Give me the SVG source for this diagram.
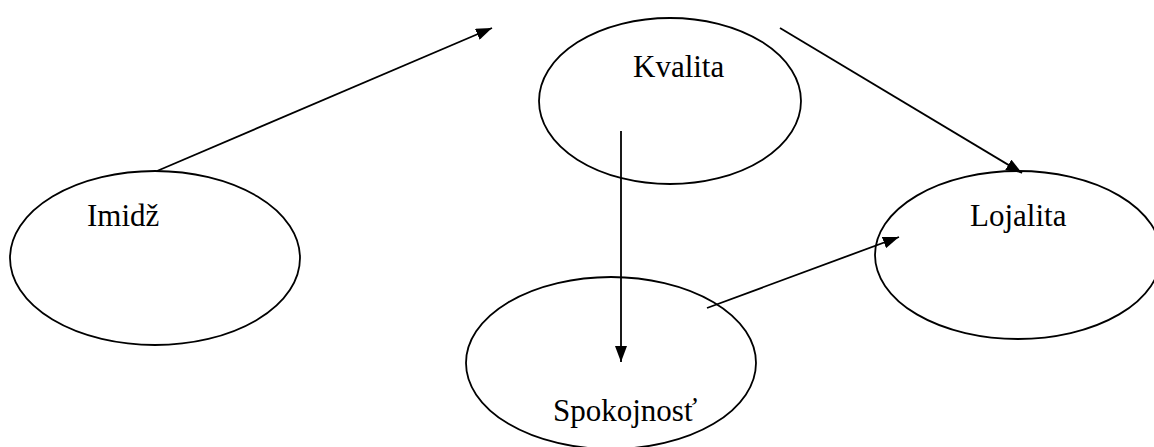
<svg xmlns="http://www.w3.org/2000/svg" width="1154" height="447" viewBox="0 0 1154 447">
  <style>
    .node ellipse { fill: none; stroke: #000; stroke-width: 1.8; }
    .node text { font-family: "Liberation Serif", "Times New Roman", serif; font-size: 31px; fill: #000; }
    .edge { stroke: #000; stroke-width: 1.8; fill: none; marker-end: url(#arrow); }
  </style>
  <defs>
    <!-- filled triangular arrowhead, tip placed on the line end -->
    <marker id="arrow" viewBox="0 0 10 10" refX="10" refY="5" markerWidth="16" markerHeight="12" markerUnits="userSpaceOnUse" orient="auto" preserveAspectRatio="none">
      <path d="M0,0 L10,5 L0,10 Z" fill="#000"/>
    </marker>
  </defs>
  <rect width="1154" height="447" fill="#fff"/>

  <g id="connectors">
    <line class="edge" x1="157" y1="171" x2="492" y2="28"/>
    <line class="edge" x1="780" y1="28" x2="1022" y2="173"/>
    <line class="edge" x1="621" y1="131" x2="621" y2="362"/>
    <line class="edge" x1="707" y1="308" x2="899" y2="237"/>
  </g>

  <g id="node-imidz" class="node">
    <ellipse cx="155" cy="258" rx="145" ry="87"/>
    <text x="87" y="226">Imidž</text>
  </g>

  <g id="node-kvalita" class="node">
    <ellipse cx="670" cy="101" rx="131" ry="83"/>
    <text x="633" y="77">Kvalita</text>
  </g>

  <g id="node-lojalita" class="node">
    <ellipse cx="1018" cy="255" rx="143" ry="84"/>
    <text x="970" y="226">Lojalita</text>
  </g>

  <g id="node-spokojnost" class="node">
    <ellipse cx="611" cy="363" rx="145" ry="86"/>
    <text x="553" y="421">Spokojnosť</text>
  </g>
</svg>
